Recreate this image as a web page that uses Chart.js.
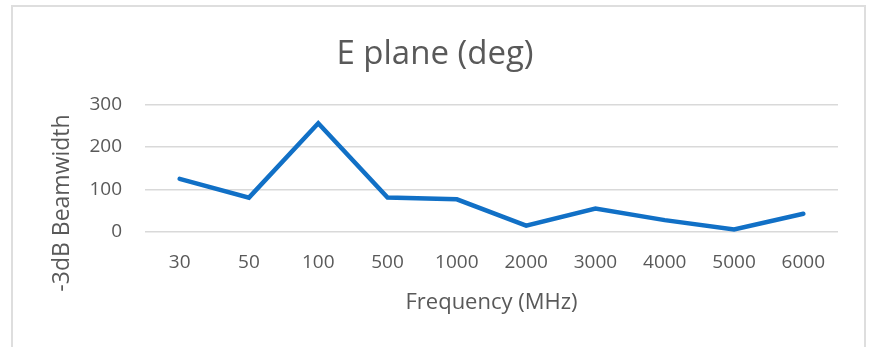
<!DOCTYPE html>
<html>
<head>
<meta charset="utf-8">
<script src="https://cdn.jsdelivr.net/npm/chart.js@4"></script>
<style>
  html, body { margin: 0; padding: 0; background: #fff; }
  #frame { position: absolute; left: 11px; top: 5px; width: 851px; height: 360px; border: 2px solid #dedede; }
  #wrap { position: absolute; left: 0; top: 0; width: 870px; height: 347px; }
</style>
</head>
<body>
<div id="frame"></div>
<div id="wrap"><canvas id="chart"></canvas></div>
<script>
const frequencies = ['30', '50', '100', '500', '1000', '2000', '3000', '4000', '5000', '6000'];
const beamwidth = [125, 81, 256, 81, 77, 15, 55, 28, 6, 43];
const yTicks = [0, 100, 200, 300];

const textColor = '#595959';
const fontFamily = "'Open Sans', sans-serif";

// rotated y title, centred the way the office chart places it
const yTitle = {
  id: 'yTitle',
  afterDraw(chart) {
    const ctx = chart.ctx;
    ctx.save();
    ctx.translate(62, 203);
    ctx.rotate(-Math.PI / 2);
    ctx.font = "23px " + fontFamily;
    ctx.fillStyle = textColor;
    ctx.textAlign = 'center';
    ctx.textBaseline = 'middle';
    ctx.fillText('-3dB Beamwidth', 0, 0);
    ctx.restore();
  }
};

new Chart(document.getElementById('chart'), {
  type: 'line',
  data: {
    labels: frequencies,
    datasets: [{
      label: 'E plane (deg)',
      data: beamwidth,
      borderColor: '#1170c6',
      borderWidth: 4.5,
      borderCapStyle: 'round',
      borderJoinStyle: 'miter',
      pointRadius: 0,
      tension: 0,
      fill: false
    }]
  },
  options: {
    responsive: true,
    maintainAspectRatio: false,
    animation: false,
    layout: { padding: 0 },
    plugins: {
      legend: { display: false },
      tooltip: { enabled: false },
      title: {
        display: true,
        text: 'E plane (deg)',
        color: textColor,
        font: { family: fontFamily, size: 33, weight: 'normal', lineHeight: 1.2 },
        padding: { top: 35, bottom: 30 }
      }
    },
    scales: {
      x: {
        offset: true,
        grid: { display: false, drawTicks: false },
        border: { display: false },
        ticks: { color: textColor, font: { family: fontFamily, size: 19 }, padding: 19, maxRotation: 0, autoSkip: false },
        title: {
          display: true,
          text: 'Frequency (MHz)',
          color: textColor,
          font: { family: fontFamily, size: 22, lineHeight: 1.2 },
          padding: { top: 0, bottom: 31 }
        },
        afterFit(scale) { scale.height = 115; }
      },
      y: {
        min: 0,
        max: 300,
        afterBuildTicks(scale) { scale.ticks = yTicks.map(v => ({ value: v })); },
        grid: { color: '#d9d9d9', lineWidth: 1.4, drawTicks: false },
        border: { display: false },
        ticks: { color: textColor, font: { family: fontFamily, size: 19 }, padding: 23 },
        afterFit(scale) { scale.width = 145; }
      },
      // empty right-hand strip so the title stays centred on the whole frame
      yRight: {
        position: 'right',
        grid: { display: false, drawTicks: false },
        border: { display: false },
        ticks: { display: false },
        afterFit(scale) { scale.width = 32; }
      }
    }
  },
  plugins: [yTitle]
});
</script>
</body>
</html>
